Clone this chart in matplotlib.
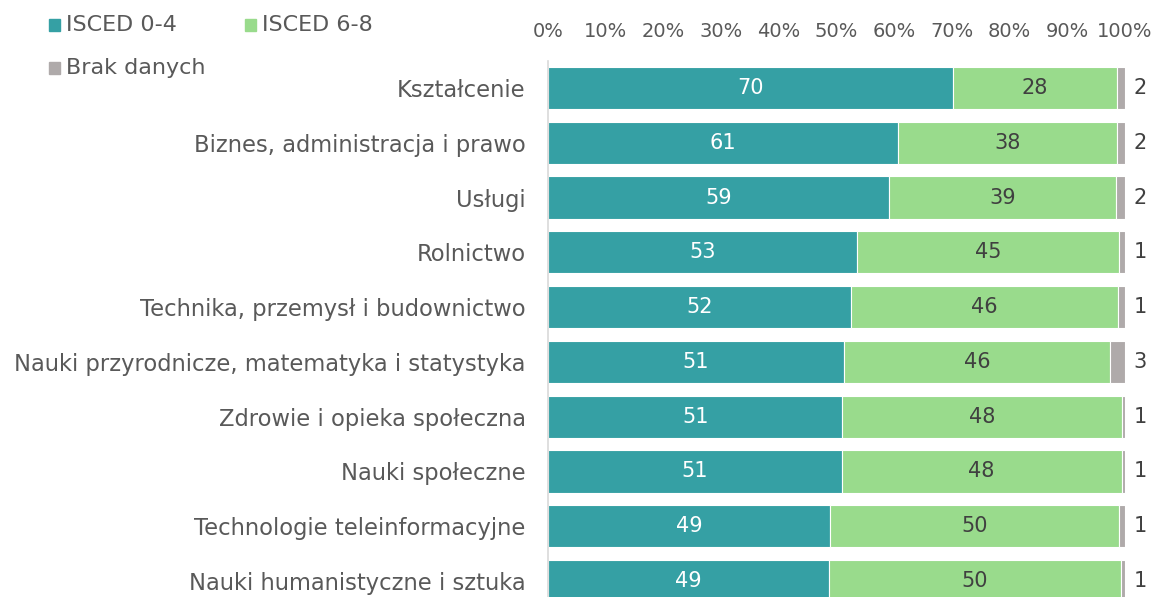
import matplotlib
matplotlib.use("Agg")
import matplotlib.pyplot as plt
from matplotlib.patches import Rectangle

categories = [
    "Kształcenie",
    "Biznes, administracja i prawo",
    "Usługi",
    "Rolnictwo",
    "Technika, przemysł i budownictwo",
    "Nauki przyrodnicze, matematyka i statystyka",
    "Zdrowie i opieka społeczna",
    "Nauki społeczne",
    "Technologie teleinformacyjne",
    "Nauki humanistyczne i sztuka",
]
isced_04 = [70.2, 60.7, 59.1, 53.6, 52.5, 51.3, 51.0, 50.9, 48.9, 48.7]
isced_68 = [28.4, 37.9, 39.3, 45.4, 46.3, 46.1, 48.5, 48.5, 50.1, 50.6]
brak = [1.4, 1.4, 1.6, 1.0, 1.2, 2.6, 0.5, 0.6, 1.0, 0.7]
labels_04 = ["70", "61", "59", "53", "52", "51", "51", "51", "49", "49"]
labels_68 = ["28", "38", "39", "45", "46", "46", "48", "48", "50", "50"]
labels_brak = ["2", "2", "2", "1", "1", "3", "1", "1", "1", "1"]
series_names = ["ISCED 0-4", "ISCED 6-8", "Brak danych"]
tick_labels = ["0%", "10%", "20%", "30%", "40%", "50%", "60%", "70%", "80%", "90%", "100%"]

c_teal = "#35A0A4"
c_green = "#99DB8C"
c_gray = "#AFAAAA"
colors = [c_teal, c_green, c_gray]
txt = "#595959"

plt.rcParams["font.family"] = ["DejaVu Sans"]

W, H = 1159, 597
fig = plt.figure(figsize=(W / 100, H / 100), dpi=100)
left, right = 548 / W, 1125 / W
top_px, bot_px = 60.6, 608.4
ax = fig.add_axes([left, (H - bot_px) / H, right - left, (bot_px - top_px) / H])

y = list(range(len(categories)))
h = 0.77
ax.barh(y, isced_04, height=h, color=c_teal, edgecolor="white", linewidth=0.8)
ax.barh(y, isced_68, left=isced_04, height=h, color=c_green, edgecolor="white", linewidth=0.8)
lefts3 = [a + b for a, b in zip(isced_04, isced_68)]
ax.barh(y, brak, left=lefts3, height=h, color=c_gray, edgecolor="white", linewidth=0.8)

fs = 15
for i in y:
    ax.text(isced_04[i] / 2, i, labels_04[i], ha="center", va="center", color="white", fontsize=fs)
    ax.text(isced_04[i] + isced_68[i] / 2, i, labels_68[i], ha="center", va="center", color="#404040", fontsize=fs)
    ax.text(102.6, i, labels_brak[i], ha="center", va="center", color="#404040", fontsize=fs)

ax.set_xlim(0, 100)
ax.set_ylim(len(categories) - 0.5, -0.5)
ax.set_xticks(range(0, 101, 10))
ax.set_xticklabels(tick_labels)
ax.xaxis.tick_top()
ax.tick_params(axis="x", length=0, pad=14, labelsize=14, labelcolor=txt)
ax.set_yticks(y)
ax.set_yticklabels(categories)
ax.tick_params(axis="y", length=0, pad=16, labelsize=16.3, labelcolor=txt)
for s in ["top", "right", "bottom"]:
    ax.spines[s].set_visible(False)
ax.spines["left"].set_color("#D9D9D9")
ax.spines["left"].set_linewidth(1.2)

# legend (manual layout: two entries on first row, one on second)
leg_pos = [(49, 25), (245, 25), (49, 68)]
sq = 11
for (px, py), name, col in zip(leg_pos, series_names, colors):
    fig.patches.append(Rectangle((px / W, (H - py - sq / 2) / H), sq / W, sq / H,
                                 transform=fig.transFigure, color=col))
    fig.text((px + 17) / W, (H - py) / H, name, ha="left", va="center",
             fontsize=16, color=txt)

fig.savefig("out.png", dpi=100)
